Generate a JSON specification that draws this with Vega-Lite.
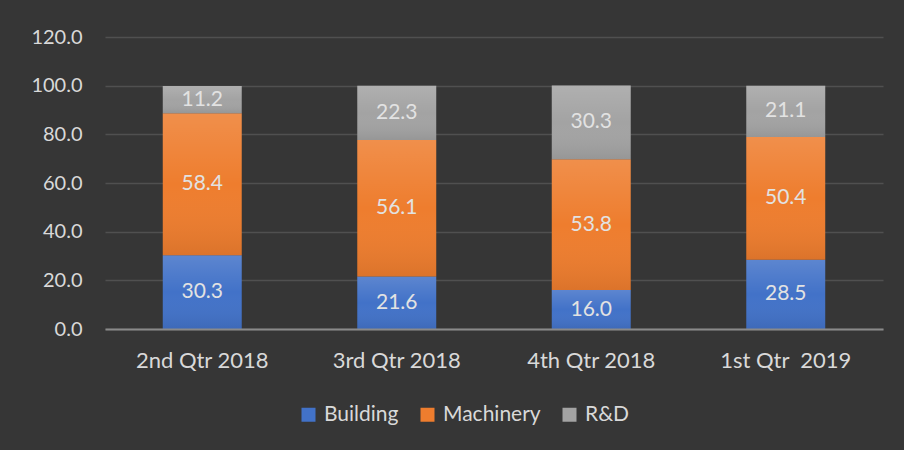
{
  "$schema": "https://vega.github.io/schema/vega-lite/v6.json",
  "width": 778,
  "height": 292,
  "autosize": {"type": "none"},
  "padding": {"left": 105, "top": 37, "right": 21, "bottom": 121},
  "background": "#363636",
  "data": {
    "values": [
      {"quarter": "2nd Qtr 2018", "series": "Building", "value": 30.3},
      {"quarter": "2nd Qtr 2018", "series": "Machinery", "value": 58.4},
      {"quarter": "2nd Qtr 2018", "series": "R&D", "value": 11.2},
      {"quarter": "3rd Qtr 2018", "series": "Building", "value": 21.6},
      {"quarter": "3rd Qtr 2018", "series": "Machinery", "value": 56.1},
      {"quarter": "3rd Qtr 2018", "series": "R&D", "value": 22.3},
      {"quarter": "4th Qtr 2018", "series": "Building", "value": 16.0},
      {"quarter": "4th Qtr 2018", "series": "Machinery", "value": 53.8},
      {"quarter": "4th Qtr 2018", "series": "R&D", "value": 30.3},
      {"quarter": "1st Qtr \u00a02019", "series": "Building", "value": 28.5},
      {"quarter": "1st Qtr \u00a02019", "series": "Machinery", "value": 50.4},
      {"quarter": "1st Qtr \u00a02019", "series": "R&D", "value": 21.1}
    ]
  },
  "encoding": {
    "x": {
      "field": "quarter",
      "type": "nominal",
      "sort": null,
      "title": null,
      "scale": {"paddingInner": 0.594, "paddingOuter": 0.297},
      "axis": {
        "labelAngle": 0,
        "ticks": false,
        "tickSize": 0,
        "domain": true,
        "domainColor": "#8a8a8a",
        "domainWidth": 2,
        "labelPadding": 21,
        "labelFontSize": 22,
        "zindex": 1
      }
    },
    "y": {
      "field": "value",
      "type": "quantitative",
      "stack": "zero",
      "title": null,
      "scale": {"domain": [0, 120], "nice": false},
      "axis": {
        "values": [0, 20, 40, 60, 80, 100, 120],
        "format": ".1f",
        "ticks": false,
        "tickSize": 0,
        "domain": false,
        "labelPadding": 23,
        "labelFontSize": 20,
        "grid": true,
        "gridColor": "#505050",
        "gridWidth": 1.5
      }
    },
    "order": {"field": "series", "type": "nominal", "sort": "ascending"}
  },
  "layer": [
    {
      "mark": {"type": "bar"},
      "encoding": {
        "color": {
          "field": "series",
          "type": "nominal",
          "title": null,
          "scale": {
            "domain": ["Building", "Machinery", "R&D"],
            "range": ["#4272c8", "#ee7d2e", "#a3a3a3"]
          },
          "legend": {
            "orient": "none",
            "direction": "horizontal",
            "legendX": 193,
            "legendY": 367,
            "symbolType": "square",
            "symbolSize": 196,
            "symbolStrokeWidth": 0,
            "labelFontSize": 21,
            "labelOffset": 5,
            "columnPadding": 18,
            "padding": 0
          }
        }
      }
    },
    {
      "mark": {
        "type": "bar",
        "fill": {
          "gradient": "linear",
          "x1": 0, "y1": 0, "x2": 0, "y2": 1,
          "stops": [
            {"offset": 0, "color": "rgba(255,255,255,0.14)"},
            {"offset": 0.5, "color": "rgba(255,255,255,0.0)"},
            {"offset": 1, "color": "rgba(0,0,0,0.08)"}
          ]
        }
      },
      "encoding": {"detail": {"field": "series", "type": "nominal"}}
    },
    {
      "mark": {"type": "text", "fontSize": 21, "color": "#e2e2e2", "baseline": "middle"},
      "encoding": {
        "detail": {"field": "series", "type": "nominal"},
        "y": {"field": "value", "type": "quantitative", "stack": "zero", "bandPosition": 0.5},
        "text": {"field": "value", "type": "quantitative", "format": ".1f"}
      }
    }
  ],
  "config": {
    "font": "Lato",
    "view": {"stroke": null},
    "axis": {"labelColor": "#d9d9d9", "labelFont": "Lato"},
    "legend": {"labelColor": "#d9d9d9", "labelFont": "Lato"},
    "text": {"font": "Lato"}
  }
}
